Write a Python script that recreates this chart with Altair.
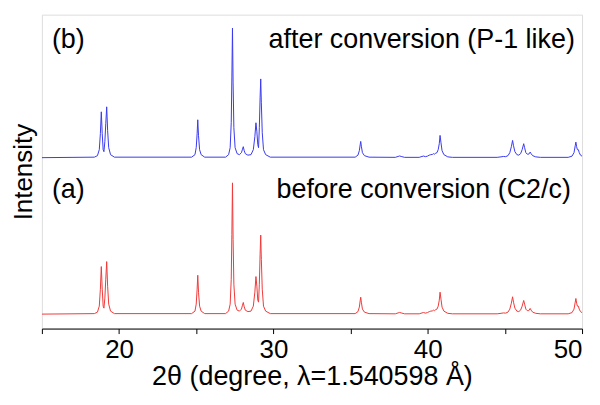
import altair as alt
import pandas as pd

# 2-theta positions (degree) shared by both patterns
two_theta = [15.0, 18.4, 18.6, 18.72, 18.79, 18.85, 18.91, 18.97, 19.02, 19.08, 19.14, 19.2, 19.26, 19.33, 19.45, 19.7,
             24.7, 24.92, 25.0, 25.06, 25.1, 25.15, 25.22, 25.32, 25.55,
             26.9, 27.1, 27.2, 27.27, 27.31, 27.35, 27.39, 27.44, 27.52, 27.65, 27.8, 27.93, 28.0, 28.05, 28.1, 28.18,
             28.35, 28.55, 28.7, 28.8, 28.87, 28.93, 28.99, 29.04, 29.09, 29.14, 29.18, 29.22, 29.28, 29.36, 29.5, 29.8,
             35.3, 35.48, 35.57, 35.63, 35.66, 35.7, 35.77, 35.9, 36.2,
             37.9, 38.08, 38.18, 38.28, 38.5,
             39.45, 39.63, 39.73, 39.85, 39.98, 40.1, 40.2, 40.3, 40.38, 40.45, 40.52, 40.6, 40.68, 40.75, 40.8, 40.86,
             40.93, 41.05, 41.3, 41.6,
             44.5, 44.75, 44.9, 45.05, 45.2, 45.32, 45.42, 45.5, 45.56, 45.65, 45.78, 45.9, 46.02, 46.12, 46.22, 46.28,
             46.36, 46.45, 46.55, 46.64, 46.7, 46.8, 47.0, 47.3,
             49.1, 49.35, 49.48, 49.56, 49.6, 49.65, 49.7, 49.76, 49.82, 49.9, 50.0]

# (a) before conversion (C2/c)
intensity_before = [0, 0.5, 2, 8, 25, 47.7, 25, 8, 6, 16, 35, 52.7, 28, 10, 3, 0.5,
                    0.5, 3, 10, 25, 39, 22, 8, 3, 0.5,
                    0.5, 3, 10, 35, 80, 131.7, 75, 30, 10, 4, 3, 5, 9, 11.7, 8, 4,
                    2.5, 3, 8, 22, 37.7, 28, 14, 12, 30, 60, 79.3, 55, 25, 8, 3, 0.5,
                    0.5, 2.5, 7, 14, 17, 12, 5, 2, 0.5,
                    0.3, 1.2, 1.7, 1.2, 0.3,
                    0.3, 1.2, 1.6, 1, 1.5, 2.5, 3, 3.2, 4, 3.5, 4.5, 5, 8, 14, 22, 15,
                    7, 3, 0.8, 0.3,
                    0.3, 0.8, 1.2, 1, 2, 5, 11, 17.4, 12, 6, 3, 2.5, 4, 8, 13.7, 10,
                    5, 3.5, 3.5, 5.7, 4, 2, 0.8, 0.3,
                    0.3, 1.5, 5, 12, 15.7, 11, 8, 8, 5, 2.5, 1.5]

# (b) after conversion (P-1 like)
intensity_after = [0, 0.5, 2, 8, 24, 46, 24, 8, 6, 16, 34, 51, 27, 10, 3, 0.5,
                   0.5, 3, 10, 24, 38, 22, 8, 3, 0.5,
                   0.5, 3, 10, 35, 80, 130, 75, 30, 10, 4, 3, 5, 8.5, 11, 7.5, 4,
                   2.5, 3, 8, 21, 35, 26, 13, 10, 30, 60, 79, 55, 25, 8, 3, 0.5,
                   0.5, 2.5, 7, 13.5, 16.3, 11.5, 5, 2, 0.5,
                   0.3, 1.2, 1.7, 1.2, 0.3,
                   0.3, 1.2, 1.6, 1, 1.5, 2.5, 3, 3.2, 4, 3.5, 4.5, 5, 8, 14, 22.3, 15,
                   7, 3, 0.8, 0.3,
                   0.3, 0.8, 1.2, 1, 2, 5, 11, 17.3, 12, 6, 3, 2.5, 4, 8, 14, 10,
                   5, 3.5, 3.5, 5.6, 4, 2, 0.8, 0.3,
                   0.3, 1.5, 5, 12, 15.6, 11, 8, 8, 5, 2.5, 1.5]

series_names = ["before", "after"]
series_offsets = [0, 157]
series_colors = ["#f03a3a", "#3a3af0"]

label_texts = ["(b)", "after conversion (P-1 like)", "(a)", "before conversion (C2/c)"]
label_x = [15.65, 49.54, 15.65, 49.28]
label_y = [275.5, 275.5, 125, 125]
label_align = ["left", "right", "left", "right"]

rows = []
for name, off, ys in zip(series_names, series_offsets, [intensity_before, intensity_after]):
    for x, y in zip(two_theta, ys):
        rows.append({"series": name, "x": x, "y": y + off})
df = pd.DataFrame(rows)

labels = pd.DataFrame({"text": label_texts, "x": label_x, "y": label_y, "align": label_align})

xscale = alt.Scale(domain=[15, 50], nice=False, zero=False)
yscale = alt.Scale(domain=[-14.5, 300.5], nice=False, zero=False)

lines = alt.Chart(df).mark_line(strokeWidth=1, clip=True).encode(
    x=alt.X("x:Q", scale=xscale,
            axis=alt.Axis(title="2θ (degree, λ=1.540598 Å)", values=[15, 20, 25, 30, 35, 40, 45, 50],
                          labelExpr="datum.value % 10 == 0 ? datum.label : ''",
                          grid=False, tickSize=5, tickColor="#000", domainColor="#000",
                          labelFontSize=26, titleFontSize=27, labelPadding=3, titlePadding=1,
                          labelColor="#000", titleColor="#000", titleFontWeight="normal")),
    y=alt.Y("y:Q", scale=yscale,
            axis=alt.Axis(title="Intensity", labels=False, ticks=False, domain=False, grid=False,
                          titleFontSize=26, titlePadding=5, titleColor="#000", titleFontWeight="normal")),
    color=alt.Color("series:N", scale=alt.Scale(domain=series_names, range=series_colors), legend=None),
    detail="series:N",
)

left_labels = alt.Chart(labels).transform_filter("datum.align == 'left'").mark_text(
    align="left", baseline="middle", fontSize=27, color="#000"
).encode(x=alt.X("x:Q", scale=xscale), y=alt.Y("y:Q", scale=yscale), text="text:N")

right_labels = alt.Chart(labels).transform_filter("datum.align == 'right'").mark_text(
    align="right", baseline="middle", fontSize=27, color="#000"
).encode(x=alt.X("x:Q", scale=xscale), y=alt.Y("y:Q", scale=yscale), text="text:N")

chart = alt.layer(lines, left_labels, right_labels).properties(
    width=542, height=315,
    autosize=alt.AutoSizeParams(type="none"),
    padding={"left": 34, "top": 6, "right": 10, "bottom": 70},
).configure_view(stroke="#000", strokeWidth=1).configure(
    font="Liberation Sans"
)

chart.save("out.html", embed_options={"renderer": "svg", "actions": False})
